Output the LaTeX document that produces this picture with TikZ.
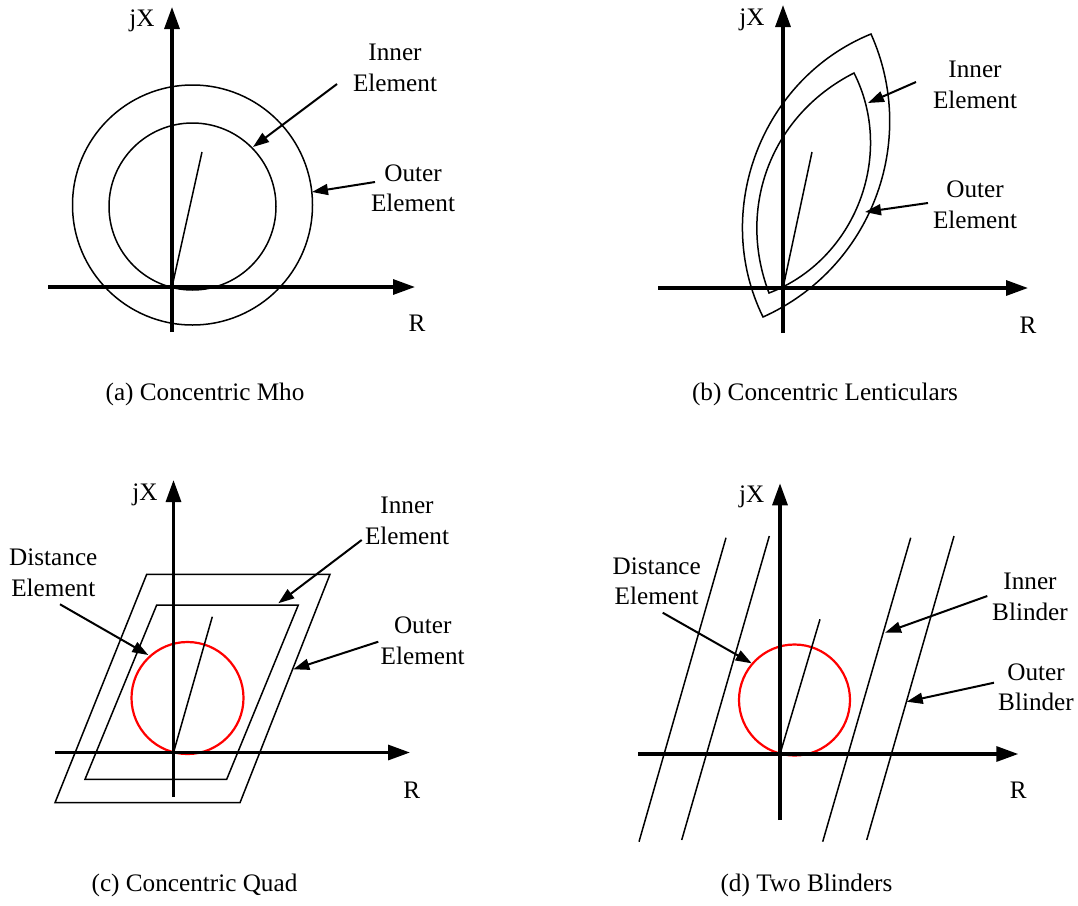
\documentclass[tikz,border=0pt]{standalone}
\usepackage{fontspec}
\setmainfont{Liberation Serif}
\usetikzlibrary{arrows.meta}
\begin{document}
\begin{tikzpicture}[x=1pt,y=-1pt,
  axis/.style={line width=3.2pt,-{Triangle[length=22pt,width=15pt]}},
  curve/.style={line width=1.5pt},
  lbl/.style={font=\fontsize{25.2}{30.5}\selectfont, align=center, inner sep=0pt},
  pointer/.style={line width=2pt,-{Triangle[length=16pt,width=11pt]}},
  dist/.style={line width=2.2pt, draw=red}]
\useasboundingbox (0,0) rectangle (1078,905);

% ---------------- (a) Concentric Mho ----------------
\coordinate (aO) at (172,287);
\coordinate (aYb) at (172,332);
\coordinate (aYt) at (172,7);
\coordinate (aXl) at (48,287);
\coordinate (aXr) at (415,287);
\draw[curve] (192.5,205) circle[radius=120];
\draw[curve] (192.5,206.5) circle[radius=83.5];
\coordinate (aL) at (202,152);
\draw[curve] (aO) -- (aL);
\draw[axis] (aYb) -- (aYt);
\draw[axis] (aXl) -- (aXr);
\node[lbl] (ajx) at (142,21) {jX};
\node[lbl] (ar) at (417,323) {R};
\node[lbl] (ainner) at (395,68) {Inner\\Element};
\node[lbl] (aouter) at (413,188.5) {Outer\\Element};
\coordinate (aia) at (337,84);
\coordinate (aib) at (253,147);
\coordinate (aoa) at (375,182);
\coordinate (aob) at (312,192);
\draw[pointer] (aia) -- (aib);
\draw[pointer] (aoa) -- (aob);
\node[lbl] (acap) at (205,394) {(a) Concentric Mho};

% ---------------- (b) Concentric Lenticulars ----------------
\coordinate (bO) at (783,288);
\coordinate (bYb) at (783,333);
\coordinate (bYt) at (783,5);
\coordinate (bXl) at (658,288);
\coordinate (bXr) at (1028,288);
\coordinate (biB) at (769,293);
\coordinate (biT) at (854,73);
\coordinate (boB) at (763,317);
\coordinate (boT) at (871,34);
\draw[curve] (biB) to[bend right=48] (biT) to[bend right=42] (biB) -- cycle;
\draw[curve] (boB) to[bend right=45] (boT) to[bend right=47] (boB) -- cycle;
\coordinate (bL) at (812,152);
\draw[curve] (bO) -- (bL);
\draw[axis] (bYb) -- (bYt);
\draw[axis] (bXl) -- (bXr);
\node[lbl] (bjx) at (752,20) {jX};
\node[lbl] (br) at (1028,325) {R};
\node[lbl] (binner) at (975,85) {Inner\\Element};
\node[lbl] (bouter) at (975,205) {Outer\\Element};
\coordinate (bia) at (916,82);
\coordinate (bib) at (868,103);
\coordinate (boa) at (928,203);
\coordinate (bob) at (865,212);
\draw[pointer] (bia) -- (bib);
\draw[pointer] (boa) -- (bob);
\node[lbl] (bcap) at (825,394) {(b) Concentric Lenticulars};

% ---------------- (c) Concentric Quad ----------------
\coordinate (cO) at (173.5,752.5);
\coordinate (cYb) at (173.5,797);
\coordinate (cYt) at (173.5,480);
\coordinate (cXl) at (55,752.5);
\coordinate (cXr) at (410,752.5);
\draw[curve] (146.7,574.3) -- (330,574.3) -- (240,802.7) -- (55,802.7) -- cycle;
\draw[curve] (156.7,605) -- (298.3,605) -- (226.7,779.3) -- (85,779.3) -- cycle;
\draw[dist] (187.5,698) circle[radius=56];
\coordinate (cL) at (212.3,616.7);
\draw[curve] (cO) -- (cL);
\draw[axis] (cYb) -- (cYt);
\draw[axis] (cXl) -- (cXr);
\node[lbl] (cjx) at (145,495) {jX};
\node[lbl] (cr) at (411.7,790) {R};
\node[lbl] (cdist) at (53.3,573) {Distance\\Element};
\node[lbl] (cinner) at (407,521) {Inner\\Element};
\node[lbl] (couter) at (422.7,641) {Outer\\Element};
\coordinate (cda) at (60,604.3);
\coordinate (cdb) at (148.3,655);
\coordinate (cia) at (361.7,540);
\coordinate (cib) at (278.3,603.3);
\coordinate (coa) at (378.3,641.7);
\coordinate (cob) at (293.3,669.3);
\draw[pointer] (cda) -- (cdb);
\draw[pointer] (cia) -- (cib);
\draw[pointer] (coa) -- (cob);
\node[lbl] (ccap) at (194.5,885) {(c) Concentric Quad};

% ---------------- (d) Two Blinders ----------------
\coordinate (dO) at (780,754);
\coordinate (dYb) at (780,820);
\coordinate (dYt) at (780,483.3);
\coordinate (dXl) at (638.3,754);
\coordinate (dXr) at (1018.3,754);
\coordinate (d1t) at (726,537.7);
\coordinate (d1b) at (639,841.7);
\coordinate (d2t) at (769.3,536);
\coordinate (d2b) at (681.7,840);
\coordinate (d3t) at (910.7,537.7);
\coordinate (d3b) at (822.7,841.7);
\coordinate (d4t) at (954,536);
\coordinate (d4b) at (866.7,840);
\draw[curve] (d1t) -- (d1b);
\draw[curve] (d2t) -- (d2b);
\draw[curve] (d3t) -- (d3b);
\draw[curve] (d4t) -- (d4b);
\draw[dist] (794.5,700) circle[radius=55.5];
\coordinate (dL) at (820,619.3);
\draw[curve] (dO) -- (dL);
\draw[axis] (dYb) -- (dYt);
\draw[axis] (dXl) -- (dXr);
\node[lbl] (djx) at (751.7,496.7) {jX};
\node[lbl] (dr) at (1018.3,790) {R};
\node[lbl] (ddist) at (656.7,581.3) {Distance\\Element};
\node[lbl] (dinner) at (1030,596.7) {Inner\\Blinder};
\node[lbl] (douter) at (1036,687.5) {Outer\\Blinder};
\coordinate (dda) at (662.7,612.7);
\coordinate (ddb) at (751.7,663.3);
\coordinate (dia) at (987.3,596);
\coordinate (dib) at (885,632.7);
\coordinate (doa) at (994,682.7);
\coordinate (dob) at (906.7,701.7);
\draw[pointer] (dda) -- (ddb);
\draw[pointer] (dia) -- (dib);
\draw[pointer] (doa) -- (dob);
\node[lbl] (dcap) at (806.5,885) {(d) Two Blinders};
\end{tikzpicture}
\end{document}
